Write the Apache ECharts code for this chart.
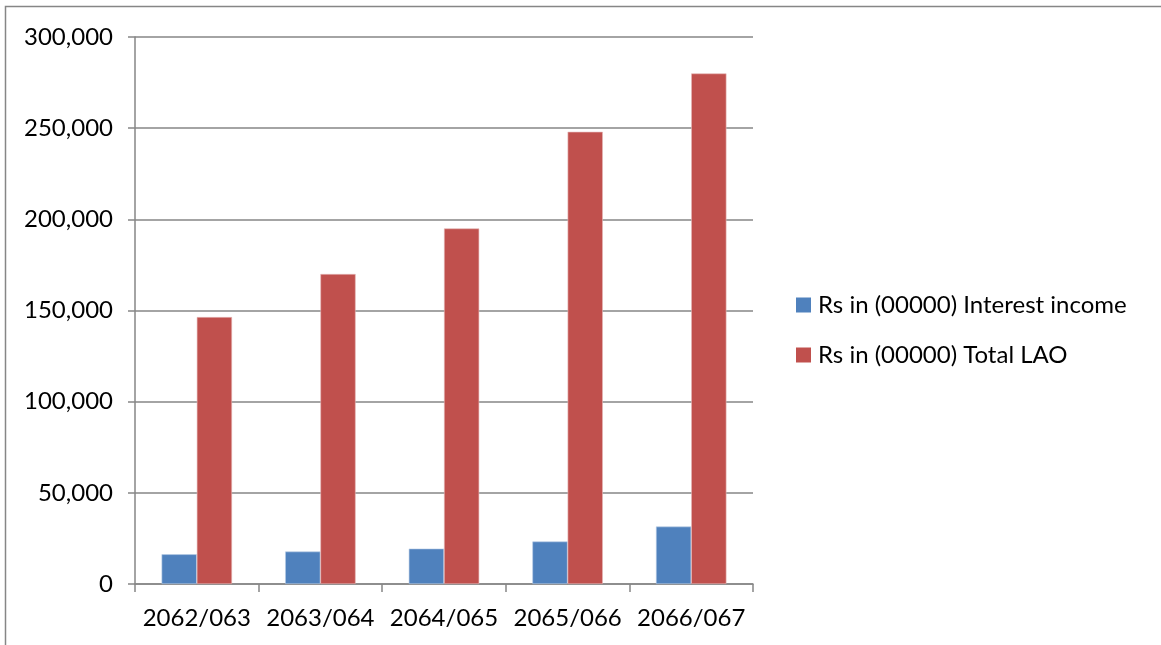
<!DOCTYPE html>
<html>
<head>
<meta charset="utf-8">
<script src="https://cdn.jsdelivr.net/npm/echarts@6/dist/echarts.min.js"></script>
<style>
  html, body { margin: 0; padding: 0; background: #fff; }
  #chart { width: 1161px; height: 645px; }
</style>
</head>
<body>
<div id="chart"></div>
<script>
// Fiscal years (Nepali calendar)
const categories = ['2062/063', '2063/064', '2064/065', '2065/066', '2066/067'];
// Rs in (00000)
const interestIncome = [16300, 17800, 19400, 23300, 31500];
const totalLAO = [146400, 170000, 195000, 248000, 280000];
const seriesNames = ['Rs in (00000) Interest income', 'Rs in (00000) Total LAO'];
const yTicks = { min: 0, max: 300000, interval: 50000 };

const FONT = 'Lato, "Liberation Sans", sans-serif';
const AXIS_GRAY = '#868686';

const chart = echarts.init(document.getElementById('chart'), null, { renderer: 'canvas' });

chart.setOption({
  animation: false,
  backgroundColor: '#ffffff',
  grid: { left: 135, right: 408, top: 37, bottom: 61, containLabel: false },
  legend: {
    orient: 'vertical',
    left: 796,
    top: 293,
    padding: 0,
    itemWidth: 15,
    itemHeight: 15,
    itemGap: 26,
    icon: 'rect',
    itemStyle: { borderWidth: 0 },
    textStyle: { fontFamily: FONT, fontSize: 24, lineHeight: 24, color: '#000', padding: [0, 0, 0, 2] },
    data: seriesNames
  },
  xAxis: {
    type: 'category',
    data: categories,
    axisLine: { lineStyle: { color: AXIS_GRAY, width: 1.5 } },
    axisTick: { show: true, length: 8, alignWithLabel: false, lineStyle: { color: AXIS_GRAY, width: 1.5 } },
    axisLabel: { interval: 0, fontFamily: FONT, fontSize: 24, color: '#000', margin: 22 }
  },
  yAxis: {
    type: 'value',
    min: yTicks.min,
    max: yTicks.max,
    interval: yTicks.interval,
    axisLine: { show: true, lineStyle: { color: AXIS_GRAY, width: 1.5 } },
    axisTick: { show: true, length: 7, lineStyle: { color: AXIS_GRAY, width: 1.5 } },
    splitLine: { show: true, lineStyle: { color: AXIS_GRAY, width: 1.5 } },
    axisLabel: {
      fontFamily: FONT, fontSize: 24, color: '#000', margin: 22,
      formatter: v => v.toLocaleString('en-US')
    }
  },
  series: [
    {
      name: seriesNames[0],
      type: 'bar',
      data: interestIncome,
      barGap: '0%',
      barCategoryGap: '43%',
      itemStyle: { color: '#4F81BD', borderColor: '#b9cde5', borderWidth: 0.6 }
    },
    {
      name: seriesNames[1],
      type: 'bar',
      data: totalLAO,
      itemStyle: { color: '#C0504D', borderColor: '#e6b9b8', borderWidth: 0.6 }
    }
  ],
  graphic: [
    {
      type: 'polyline',
      shape: { points: [[5.5, 645], [5.5, 6.5], [1161, 6.5]] },
      style: { fill: 'none', stroke: AXIS_GRAY, lineWidth: 1.5 },
      silent: true
    }
  ]
});
</script>
</body>
</html>
